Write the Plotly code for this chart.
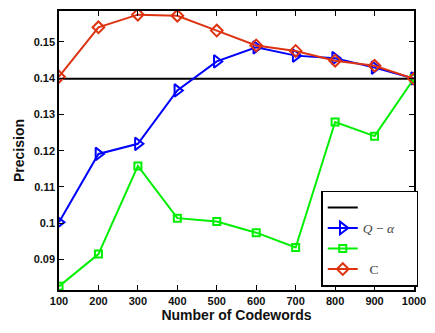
import plotly.graph_objects as go

codewords = [100, 200, 300, 400, 500, 600, 700, 800, 900, 1000]
baseline = [0.1398] * len(codewords)
q_alpha = [0.1003, 0.1191, 0.1219, 0.1366, 0.1446, 0.1485, 0.1462, 0.1455, 0.1429, 0.1399]
green_series = [0.0826, 0.0915, 0.1158, 0.1014, 0.1005, 0.0974, 0.0933, 0.1279, 0.1240, 0.1399]
c_series = [0.1404, 0.1540, 0.1575, 0.1572, 0.1531, 0.1490, 0.1475, 0.1448, 0.1434, 0.1398]
y_ticks = [0.09, 0.10, 0.11, 0.12, 0.13, 0.14, 0.15]
y_tick_text = ["0.09", "0.1", "0.11", "0.12", "0.13", "0.14", "0.15"]

serif = "Liberation Serif"
fig = go.Figure()
fig.add_trace(go.Scatter(x=codewords, y=baseline, mode="lines", name="             ",
                         line=dict(color="black", width=2)))
fig.add_trace(go.Scatter(x=codewords, y=q_alpha, mode="lines+markers",
                         name="<i>Q</i> − <i>α</i>     ",
                         line=dict(color="#0000ff", width=2),
                         marker=dict(symbol="triangle-right-open", size=11,
                                     color="#0000ff", line=dict(width=2))))
fig.add_trace(go.Scatter(x=codewords, y=green_series, mode="lines+markers", name=" ",
                         line=dict(color="#00ee00", width=2),
                         marker=dict(symbol="square-open", size=7,
                                     color="#00ee00", line=dict(width=2))))
fig.add_trace(go.Scatter(x=codewords, y=c_series, mode="lines+markers", name="  C",
                         line=dict(color="#dd3311", width=2),
                         marker=dict(symbol="diamond-open", size=9,
                                     color="#dd3311", line=dict(width=2))))

axis_common = dict(showline=True, linecolor="black", linewidth=1.5, mirror="allticks",
                   ticks="inside", ticklen=5, tickwidth=1, tickcolor="black",
                   showgrid=False, zeroline=False,
                   tickfont=dict(family="Liberation Sans", size=11, color="#111"))
fig.update_xaxes(range=[100, 1000], tickvals=codewords,
                 title=dict(text="<b>Number of Codewords</b>", standoff=2,
                            font=dict(family="Liberation Sans", size=14, color="#111")),
                 **axis_common)
fig.update_yaxes(range=[0.0816, 0.1585], tickvals=y_ticks, ticktext=y_tick_text,
                 title=dict(text="<b>Precision</b>", standoff=6,
                            font=dict(family="Liberation Sans", size=14, color="#111")),
                 **axis_common)
fig.update_layout(
    width=435, height=333,
    margin=dict(l=59, r=14, t=9, b=43),
    plot_bgcolor="white", paper_bgcolor="white",
    font=dict(family="Liberation Sans", size=11, color="#111", weight="bold"),
    legend=dict(x=1.012, y=0.012, xanchor="right", yanchor="bottom",
                bordercolor="black", borderwidth=1.5, bgcolor="white",
                font=dict(family=serif, size=13.5, color="#444", weight="normal"),
                tracegroupgap=0, itemwidth=30),
)
fig.write_html("out.html")
